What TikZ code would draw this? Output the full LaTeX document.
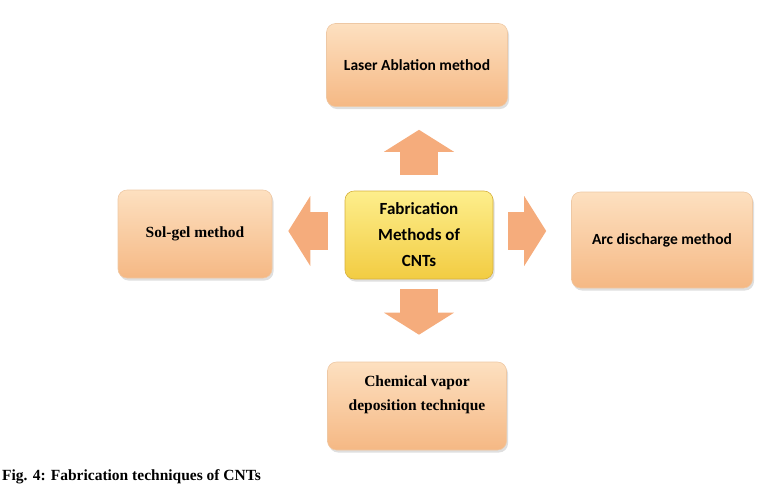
\documentclass[tikz,border=0pt]{standalone}
\usepackage{fontspec}
\setmainfont{Liberation Serif}
\newfontfamily\calfont{Carlito}
\usetikzlibrary{arrows.meta,shadows}
\definecolor{peachtop}{RGB}{253,224,192}
\definecolor{peachbot}{RGB}{245,184,132}
\definecolor{peachline}{RGB}{238,200,164}
\definecolor{goldtop}{RGB}{253,238,140}
\definecolor{goldbot}{RGB}{242,204,66}
\definecolor{goldline}{RGB}{214,176,60}
\definecolor{arrowfill}{RGB}{245,172,124}
\tikzset{
  methodbox/.style={rounded corners=9pt,top color=peachtop,bottom color=peachbot,
    draw=peachline,line width=0.6pt,align=center,inner sep=0pt,
    drop shadow={opacity=0.25,shadow xshift=1.5pt,shadow yshift=-2.5pt}},
  centrebox/.style={methodbox,top color=goldtop,bottom color=goldbot,draw=goldline},
  sanslabel/.style={font=\calfont\bfseries\fontsize{15.5}{18}\selectfont},
  seriflabel/.style={font=\bfseries\fontsize{15.5}{24}\selectfont,align=center},
  blockarrow/.style={draw=arrowfill,line width=38pt,
    -{Triangle[length=22pt,width=70pt,line width=0pt]}}
}
\begin{document}
\begin{tikzpicture}[x=1pt,y=-1pt]
  \useasboundingbox (0,0) rectangle (768,499);
  % boxes
  \node[centrebox,minimum width=148pt,minimum height=88pt,
    font=\calfont\bfseries\fontsize{17}{26}\selectfont] (ctr) at (419,235)
    {Fabrication\\Methods of\\CNTs};
  \node[methodbox,sanslabel,minimum width=181pt,minimum height=83pt] (laser) at (417,65)
    {Laser Ablation method};
  \node[methodbox,seriflabel,minimum width=154pt,minimum height=88pt] (solgel) at (195,234)
    {Sol-gel method};
  \node[methodbox,sanslabel,minimum width=181pt,minimum height=96pt] (arc) at (662,240)
    {Arc discharge method};
  \node[methodbox,minimum width=179pt,minimum height=88pt] (cvd) at (417,406) {};
  \node[seriflabel] (cvdtext) at ([yshift=11pt]cvd.center)
    {Chemical vapor\\deposition technique};
  % block arrows
  \draw[blockarrow,shorten <=16pt,shorten >=23pt] (ctr.north) -- (ctr.north |- laser.south);
  \draw[blockarrow,shorten <=10pt,shorten >=27pt] (ctr.south) -- (ctr.south |- cvd.north);
  \draw[blockarrow,shorten <=17pt,shorten >=16pt] ([yshift=4pt]ctr.west) -- ([yshift=4pt]ctr.west -| solgel.east);
  \draw[blockarrow,shorten <=15pt,shorten >=25pt] ([yshift=4pt]ctr.east) -- ([yshift=4pt]ctr.east -| arc.west);
  % caption
  \node[anchor=base west,inner sep=0pt,font=\bfseries\fontsize{15.5}{18}\selectfont] (caption) at (2,480)
    {Fig. 4: Fabrication techniques of CNTs};
\end{tikzpicture}
\end{document}
